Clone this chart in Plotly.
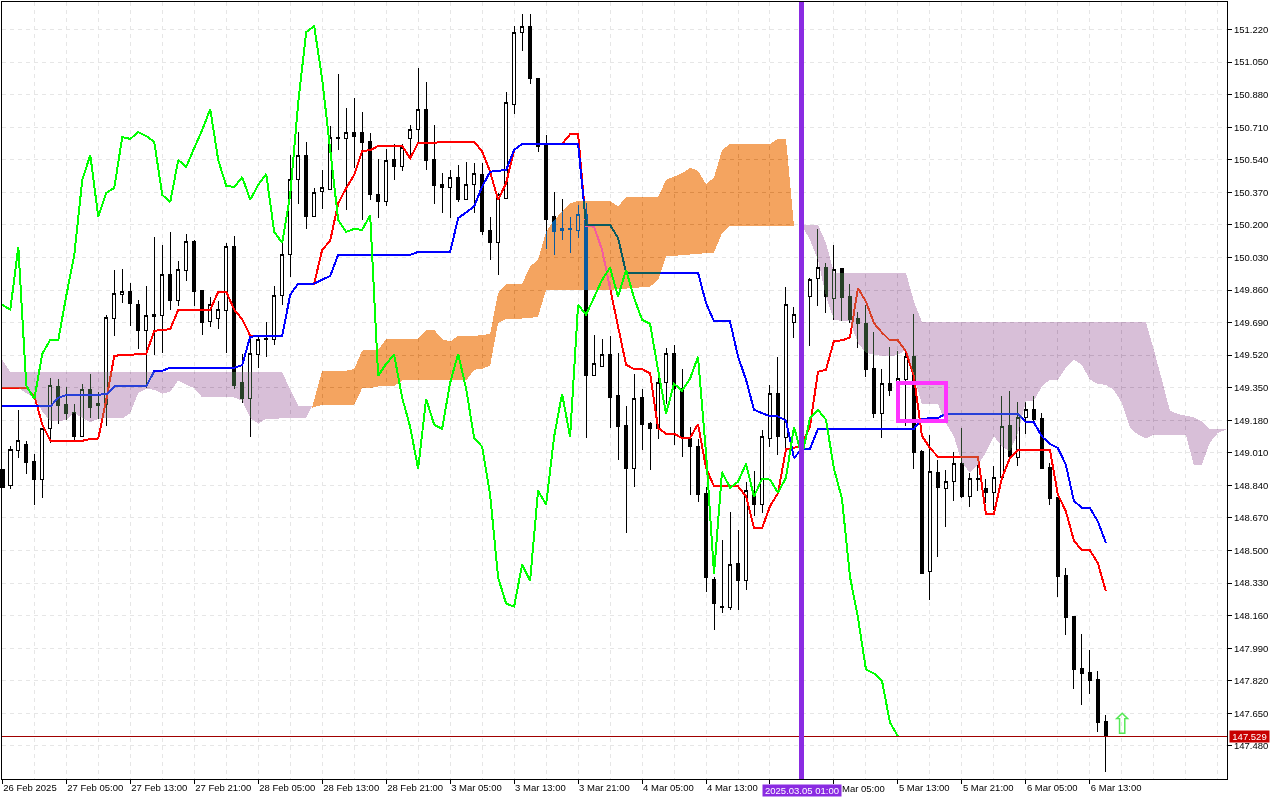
import plotly.graph_objects as go

opens = [148.922,148.838,149.021,149.052,148.964,148.870,149.136,149.355,149.261,149.219,
149.094,149.339,149.266,149.261,149.710,149.835,149.850,149.783,149.647,149.731,
149.726,149.939,149.804,149.960,150.111,149.856,149.694,149.710,149.751,150.085,
149.376,149.292,149.522,149.605,149.600,149.830,150.044,150.435,150.565,150.242,
150.372,150.383,150.659,150.649,150.685,150.685,150.638,150.357,150.320,150.544,
150.503,150.649,150.696,150.805,150.544,150.409,150.398,150.450,150.331,150.409,
150.461,150.169,150.106,150.336,150.831,151.207,151.238,150.967,150.618,150.242,
150.169,150.179,150.169,150.252,149.412,149.459,149.522,149.308,149.152,148.927,
149.298,149.162,149.136,149.376,149.527,149.345,149.084,149.042,148.797,148.348,
148.202,148.202,148.432,148.343,148.792,148.739,149.084,149.318,149.089,149.689,
149.694,149.825,149.918,149.976,149.814,149.971,149.825,149.710,149.684,149.449,
149.214,149.371,149.366,149.392,149.512,149.016,148.390,148.906,148.823,148.859,
148.953,148.781,148.875,148.823,148.802,148.880,149.152,148.984,149.193,149.235,
149.188,148.932,148.776,148.369,148.155,147.884,147.863,147.826,147.607]
highs = [148.922,149.047,149.235,149.073,149.005,149.136,149.402,149.397,149.355,149.266,
149.371,149.423,149.329,149.731,149.965,149.971,149.898,149.809,149.882,150.137,
150.096,150.163,150.013,150.153,150.122,149.861,149.825,149.804,150.106,150.143,
149.527,149.621,149.621,149.694,149.882,150.117,150.565,150.685,150.633,150.393,
150.487,150.717,150.988,150.810,150.863,150.790,150.680,150.544,150.597,150.623,
150.623,150.722,151.019,150.946,150.722,150.472,150.487,150.513,150.529,150.523,
150.523,150.242,150.367,150.894,151.238,151.301,151.301,150.967,150.670,150.372,
150.336,150.242,150.305,150.315,149.626,149.605,149.621,149.532,149.256,149.423,
149.345,149.172,149.418,149.559,149.574,149.449,149.146,149.084,148.833,148.364,
148.557,148.703,148.609,148.859,148.917,149.131,149.366,149.512,149.877,149.772,
149.861,149.924,150.179,150.002,150.096,149.971,149.892,149.746,149.783,149.642,
149.449,149.564,149.543,149.553,149.736,149.026,149.105,148.974,148.922,149.016,
149.141,148.906,148.948,148.875,148.943,149.308,149.334,149.277,149.277,149.308,
149.219,148.958,148.776,148.411,148.155,148.066,147.983,147.873,147.639]
lows = [148.828,148.823,148.984,148.901,148.739,148.776,149.063,149.162,149.183,149.079,
149.094,149.193,149.188,149.152,149.621,149.793,149.673,149.553,149.350,149.522,
149.532,149.757,149.778,149.908,149.778,149.626,149.668,149.658,149.532,149.345,
149.271,149.094,149.454,149.512,149.574,149.783,149.929,150.310,150.179,150.242,
150.284,150.383,150.591,150.278,150.497,150.226,150.331,150.237,150.299,150.435,
150.482,150.565,150.628,150.487,150.310,150.263,150.237,150.320,150.331,150.263,
150.148,150.018,149.939,150.336,150.779,151.108,150.936,150.581,150.075,150.044,
150.122,150.054,150.132,149.089,149.412,149.459,149.141,148.974,148.593,148.833,
149.026,148.922,149.084,149.266,149.052,148.990,148.792,148.755,148.285,148.087,
148.176,148.192,148.187,148.296,148.682,148.698,149.042,149.000,149.037,149.610,
149.652,149.569,149.778,149.741,149.705,149.699,149.689,149.558,149.407,149.193,
149.089,149.308,149.366,149.152,148.927,148.379,148.244,148.468,148.625,148.760,
148.776,148.729,148.813,148.750,148.713,148.875,148.974,148.943,149.110,149.172,
148.927,148.739,148.259,148.061,147.779,147.691,147.753,147.555,147.341]
closes = [148.828,149.026,149.073,148.958,148.870,149.136,149.360,149.256,149.214,149.094,
149.339,149.245,149.256,149.715,149.840,149.850,149.788,149.647,149.726,149.720,
149.939,149.804,149.965,150.111,149.850,149.689,149.783,149.757,150.085,149.360,
149.292,149.527,149.600,149.600,149.830,150.044,150.435,150.565,150.242,150.367,
150.393,150.659,150.649,150.685,150.664,150.633,150.357,150.320,150.539,150.503,
150.602,150.696,150.805,150.539,150.404,150.398,150.450,150.331,150.409,150.466,
150.164,150.106,150.357,150.837,151.207,151.238,150.962,150.607,150.226,150.164,
150.179,150.174,150.252,149.412,149.475,149.522,149.298,149.146,148.927,149.292,
149.157,149.136,149.376,149.527,149.345,149.089,149.042,148.792,148.359,148.223,
148.207,148.426,148.343,148.813,148.739,149.094,149.318,149.094,149.783,149.731,
149.825,149.913,149.976,149.825,149.965,149.819,149.705,149.684,149.444,149.214,
149.371,149.334,149.397,149.512,149.011,148.379,148.911,148.828,148.859,148.953,
148.781,148.875,148.870,148.802,148.880,149.146,148.990,149.193,149.235,149.183,
148.927,148.771,148.364,148.150,147.879,147.858,147.821,147.602,147.529]
bars = list(range(len(closes)))

chikou_bars = bars[:113]
chikou = closes[26:]

kijun_bars = [0,6,7,8,13,14,18,19,20,21,29,30,31,35,36,37,39,41,42,51,52,56,57,58,59,60,61,63,64,65,72,73,76,77,78,87,88,89,91,92,93,94,95,96,97,98,99,100,101,102,114,115,117,118,127,128,129,130,131,132,133,134,135,136,137,138]
kijun = [149.252,149.252,149.298,149.312,149.315,149.357,149.357,149.437,149.439,149.454,149.454,149.468,149.617,149.621,149.835,149.894,149.894,149.934,150.044,150.044,150.059,150.059,150.235,150.266,150.296,150.400,150.478,150.487,150.591,150.623,150.623,150.200,150.200,150.132,149.951,149.951,149.792,149.696,149.696,149.513,149.392,149.235,149.218,149.200,149.200,149.178,148.983,149.031,149.031,149.136,149.136,149.188,149.192,149.214,149.214,149.169,149.169,149.096,149.056,149.035,148.948,148.760,148.722,148.722,148.652,148.540]

tenkan_bars = [0,3,4,5,6,10,11,12,13,14,15,18,19,21,22,26,27,28,29,30,31,35,36,37,39,40,41,42,43,44,45,46,47,50,51,52,59,60,61,62,63,64,65,70,71,72,73,74,75,76,77,78,79,80,81,82,83,84,85,86,87,88,89,92,93,94,95,96,97,98,99,100,101,102,103,104,105,106,107,108,109,110,111,112,113,114,115,116,117,122,123,124,125,126,127,131,132,133,134,135,136,137,138]
tenkan = [149.350,149.350,149.308,149.157,149.073,149.073,149.082,149.085,149.287,149.517,149.520,149.527,149.647,149.656,149.757,149.757,149.851,149.851,149.757,149.708,149.621,149.621,149.835,149.894,149.894,150.070,150.117,150.313,150.392,150.461,150.586,150.590,150.612,150.612,150.548,150.628,150.635,150.583,150.478,150.331,150.418,150.591,150.623,150.623,150.673,150.676,150.195,150.191,150.070,149.878,149.670,149.470,149.447,149.447,149.426,149.140,149.110,149.110,149.087,149.087,149.160,148.931,148.835,148.835,148.783,148.616,148.616,148.731,148.800,149.030,149.035,149.052,149.148,149.433,149.444,149.595,149.597,149.612,149.870,149.800,149.687,149.638,149.597,149.597,149.539,149.409,149.099,149.035,148.990,148.990,148.692,148.692,148.879,148.983,149.026,149.026,148.792,148.705,148.552,148.501,148.501,148.435,148.287]

bear1_bars = [-0.04,0,1,35,36,37,38,38.7,38,33,32,31,30,29,25,24,23,22,21,20,19,18,17,16,15,13,12,11,10,9,8,7,6,5,4,3,2,0,-0.04]
bear1 = [149.496,149.496,149.433,149.433,149.339,149.256,149.256,149.252,149.192,149.188,149.162,149.192,149.283,149.299,149.299,149.348,149.365,149.388,149.330,149.318,149.339,149.345,149.322,149.218,149.190,149.190,149.188,149.169,149.192,149.219,149.183,149.174,149.174,149.226,149.296,149.322,149.348,149.348,149.348]

bull_bars = [38.7,39,40,43,44,45,47,48,52,53,54,55,56,57,60,61,62,63,65,66,67,68,69,70,71,72,76,77,78,82,83,84,85,86,87,88,89,90,91,96,97,98,99,
             99,91,90,89,83,82,81,76,68,67,66,63,62,61,60,59,58,50,49,47,46,45,44,40,39,38.7]
bull = [149.244,149.287,149.439,149.439,149.447,149.544,149.548,149.604,149.605,149.652,149.652,149.604,149.591,149.621,149.623,149.632,149.844,149.892,149.892,149.983,150.018,150.165,150.226,150.268,150.313,150.325,150.325,150.296,150.345,150.345,150.435,150.452,150.470,150.498,150.483,150.413,150.447,150.591,150.623,150.623,150.649,150.649,150.196,
        150.196,150.196,150.157,150.056,150.035,149.913,149.878,149.861,149.861,149.722,149.713,149.708,149.689,149.465,149.449,149.444,149.388,149.388,149.359,149.357,149.348,149.348,149.261,149.260,149.250,149.244]

bear2_bars = [99,102,103,104,113,114,115,143,144,145,146,147,148,149,150,151,153.15,
              153.15,152,151,150,149,148,146,144,143,142,141,140,139,138,137,136,135,134,133,132,131,130,129,128,127,126,125,124,123,122,121,120,119,118,117,115,114,113,112,111,110,109,108,107,106,105,104,103,102,101,100,99]
bear2 = [150.196,150.200,150.106,149.951,149.951,149.800,149.694,149.694,149.548,149.392,149.231,149.213,149.204,149.195,149.174,149.134,149.134,
         149.134,149.113,149.063,148.948,148.948,149.105,149.105,149.105,149.084,149.105,149.143,149.272,149.339,149.365,149.371,149.392,149.470,149.496,149.454,149.392,149.392,149.357,149.284,149.278,149.113,149.017,149.044,149.096,149.011,148.948,148.908,148.957,149.096,149.166,149.265,149.265,149.407,149.548,149.522,149.513,149.516,149.522,149.532,149.584,149.696,149.699,149.705,149.826,150.018,150.122,150.196,150.196]

price_ticks = [151.22,151.05,150.88,150.71,150.54,150.37,150.20,150.03,149.86,149.69,149.52,149.35,149.18,149.01,148.84,148.67,148.50,148.33,148.16,147.99,147.82,147.65,147.48]
time_ticks = [0,8,16,24,32,40,48,56,64,72,80,88,96,104,112,120,128,136]
time_labels = ["26 Feb 2025","27 Feb 05:00","27 Feb 13:00","27 Feb 21:00","28 Feb 05:00","28 Feb 13:00","28 Feb 21:00","3 Mar 05:00","3 Mar 13:00","3 Mar 21:00","4 Mar 05:00","4 Mar 13:00","","","5 Mar 13:00","5 Mar 21:00","6 Mar 05:00","6 Mar 13:00"]
minor_grid = [4,12,20,28,36,44,52,60,68,76,84,92,100,108,116,124,132,140,144,148,152]

last_price = 147.529
event_bar = 100
event_label = "2025.03.05 01:00"
partly_hidden_bar, partly_hidden_label = 105, "Mar 05:00"
box_bars = (112, 118)
box_prices = (149.178, 149.374)
arrow_bar, arrow_price = 140, 147.595

FONT = "Liberation Sans"
fig = go.Figure()
fig.add_trace(go.Candlestick(x=bars, open=opens, high=highs, low=lows, close=closes, whiskerwidth=0,
    increasing=dict(line=dict(color="#000000", width=1), fillcolor="#FFFFFF"),
    decreasing=dict(line=dict(color="#000000", width=1), fillcolor="#000000"), showlegend=False))
fig.add_trace(go.Scatter(x=tenkan_bars, y=tenkan, mode="lines", line=dict(color="#FF0000", width=2), showlegend=False))
fig.add_trace(go.Scatter(x=kijun_bars, y=kijun, mode="lines", line=dict(color="#0000FF", width=2), showlegend=False))
# Cloud colours are the bitwise inverse of the visible tint; the page blends them as "difference".
for xs, ys, col in [(bear1_bars, bear1, "#274027"), (bull_bars, bull, "#0B5B9F"), (bear2_bars, bear2, "#274027")]:
    fig.add_trace(go.Scatter(x=xs, y=ys, mode="none", fill="toself", fillcolor=col, showlegend=False))
fig.add_trace(go.Scatter(x=chikou_bars, y=chikou, mode="lines", line=dict(color="#00FF00", width=2), showlegend=False))

fig.add_shape(type="line", xref="paper", x0=0, x1=1, y0=last_price, y1=last_price, line=dict(color="#A00000", width=1), layer="above")
fig.add_shape(type="line", x0=event_bar, x1=event_bar, yref="paper", y0=0, y1=1, line=dict(color="#8A2BE2", width=5), layer="above")
fig.add_shape(type="rect", x0=box_bars[0], x1=box_bars[1], y0=box_prices[0], y1=box_prices[1], line=dict(color="#FF33FF", width=4), layer="above")

fig.add_annotation(x=arrow_bar, y=arrow_price, text="⇧", showarrow=False, font=dict(family="DejaVu Sans", size=29, color="#55E855"))
fig.add_annotation(xref="paper", x=1, xanchor="left", xshift=2, y=last_price, text=f"{last_price:.3f}", showarrow=False,
                   bgcolor="#C80000", font=dict(family=FONT, size=9.5, color="#FFFFFF"), borderpad=0, width=39, height=11)
fig.add_annotation(x=event_bar, yref="paper", y=0, yanchor="top", yshift=-5, text=event_label, showarrow=False,
                   bgcolor="#8A2BE2", font=dict(family=FONT, size=9.5, color="#FFFFFF"), borderpad=0, width=78, height=11)
fig.add_annotation(x=partly_hidden_bar, xanchor="left", yref="paper", y=0, yanchor="top", yshift=-3, xshift=-1, text=partly_hidden_label, showarrow=False,
                   font=dict(family=FONT, size=9.5, color="#000000"), borderpad=0)

fig.update_layout(width=1280, height=800, margin=dict(l=2, r=52.5, t=2, b=20.5, autoexpand=False), paper_bgcolor="#FFFFFF", plot_bgcolor="#FFFFFF",
                  boxgap=0.4, showlegend=False, font=dict(family=FONT, size=9.5, color="#000000"))
grid = dict(showgrid=True, gridcolor="#E6E6E6", griddash="4px,4px", gridwidth=1)
fig.update_xaxes(range=[-0.04, 153.15], tickmode="array", tickvals=time_ticks, ticktext=time_labels, ticks="outside", ticklen=4, tickcolor="#000000",
                 tickangle=0, automargin=False, ticklabelposition="outside right", showline=True, linecolor="#000000", linewidth=1, mirror=True, zeroline=False,
                 rangeslider=dict(visible=False), minor=dict(tickmode="array", tickvals=minor_grid, ticks="", showgrid=True, gridcolor="#E6E6E6", griddash="4px,4px", gridwidth=1), **grid)
fig.update_yaxes(range=[147.307, 151.364], side="right", automargin=False, tickmode="array", tickvals=price_ticks, ticktext=[f"{p:.3f}" for p in price_ticks], ticks="outside", ticklen=4, tickcolor="#000000",
                 showline=True, linecolor="#000000", linewidth=1, mirror=True, zeroline=False, **grid)

post = """
document.body.style.margin='0';
var gd=document.querySelector('.plotly-graph-div');
function blend(){
  gd.querySelectorAll('.cartesianlayer .plot, .cartesianlayer .plot .trace, .scatterlayer').forEach(function(e){e.removeAttribute('clip-path');e.style.clipPath='none';});
  gd.querySelectorAll('.scatterlayer .js-fill').forEach(function(e){
    e.style.mixBlendMode='difference';e.style.shapeRendering='crispEdges';
    var p=e.parentNode;
    while(p && p.tagName && p.tagName.toLowerCase()!=='svg'){p.removeAttribute('clip-path');p.style.clipPath='none';p.style.opacity='';p=p.parentNode;}
  });
  gd.querySelectorAll('.scatterlayer .js-line, .boxlayer path, .shapelayer path').forEach(function(e){e.style.shapeRendering='crispEdges';});
}
blend();
gd.on('plotly_afterplot',blend);
setTimeout(blend,50);
"""
fig.write_html("out.html", post_script=post, config=dict(displayModeBar=False))
